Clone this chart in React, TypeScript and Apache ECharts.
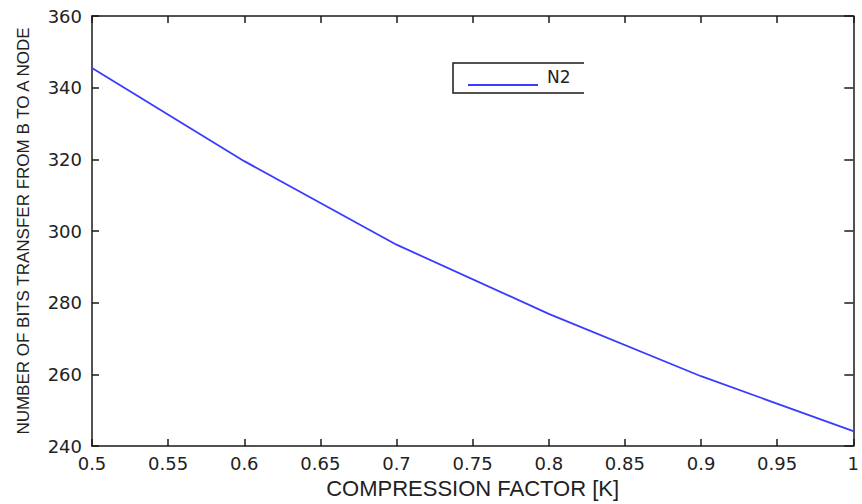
import React, { useEffect, useRef } from "react";
import * as echarts from "echarts";

const kValues = [0.5, 0.6, 0.7, 0.8, 0.9, 1.0];
const n2Bits = [345.5, 319.5, 296.2, 276.9, 259.5, 244.2];
const seriesName = "N2";
const xTitle = "COMPRESSION FACTOR [K]";
const yTitle = "NUMBER OF BITS TRANSFER FROM B TO A NODE";

export default function App() {
  const ref = useRef<HTMLDivElement>(null);
  useEffect(() => {
    if (!ref.current) return;
    const chart = echarts.init(ref.current, undefined, { renderer: "svg" });
    const axisColor = "#1a1a1a";
    const tickFont = { fontFamily: "DejaVu Sans", fontSize: 18, color: "#222" };
    chart.setOption({
      animation: false,
      backgroundColor: "#ffffff",
      grid: { left: 92, right: 5, top: 16, bottom: 52, containLabel: false },
      xAxis: [
        {
          type: "value",
          min: 0.5,
          max: 1,
          interval: 0.05,
          name: xTitle,
          nameLocation: "middle",
          nameGap: 27,
          nameTextStyle: { fontFamily: "Liberation Sans", fontSize: 22, color: "#222" },
          axisLine: { show: true, lineStyle: { color: axisColor, width: 1.5 } },
          axisTick: { show: true, inside: true, length: 7, lineStyle: { color: axisColor, width: 1.5 } },
          axisLabel: { ...tickFont, margin: 8 },
          splitLine: { show: false },
        },
        {
          type: "value",
          position: "top",
          min: 0.5,
          max: 1,
          interval: 0.05,
          axisLine: { show: true, lineStyle: { color: axisColor, width: 1.5 } },
          axisTick: { show: true, inside: true, length: 7, lineStyle: { color: axisColor, width: 1.5 } },
          axisLabel: { show: false },
          splitLine: { show: false },
        },
      ],
      yAxis: [
        {
          type: "value",
          min: 240,
          max: 360,
          interval: 20,
          name: yTitle,
          nameLocation: "middle",
          nameRotate: 90,
          nameGap: 60,
          nameTextStyle: { fontFamily: "Liberation Sans", fontSize: 17, color: "#222" },
          axisLine: { show: true, lineStyle: { color: axisColor, width: 1.5 } },
          axisTick: { show: true, inside: true, length: 7, lineStyle: { color: axisColor, width: 1.5 } },
          axisLabel: { ...tickFont, margin: 10 },
          splitLine: { show: false },
        },
        {
          type: "value",
          position: "right",
          min: 240,
          max: 360,
          interval: 20,
          axisLine: { show: true, lineStyle: { color: axisColor, width: 1.5 } },
          axisTick: { show: true, inside: true, length: 9, lineStyle: { color: axisColor, width: 1.5 } },
          axisLabel: { show: false },
          splitLine: { show: false },
        },
      ],
      series: [
        {
          name: seriesName,
          type: "line",
          data: kValues.map((k, i) => [k, n2Bits[i]]),
          symbol: "none",
          lineStyle: { color: "#3b3bff", width: 1.8 },
          xAxisIndex: 0,
          yAxisIndex: 0,
        },
      ],
      graphic: [
        {
          type: "polyline",
          shape: { points: [[584, 63], [453, 63], [453, 93], [584, 93]] },
          style: { stroke: axisColor, lineWidth: 1.5, fill: "none" },
          z: 100,
        },
        {
          type: "line",
          shape: { x1: 468, y1: 85, x2: 538, y2: 85 },
          style: { stroke: "#3b3bff", lineWidth: 1.8 },
          z: 100,
        },
        {
          type: "text",
          x: 547,
          y: 77,
          style: {
            text: seriesName,
            fontFamily: "DejaVu Sans",
            fontSize: 17,
            fill: "#222",
            verticalAlign: "middle",
            align: "left",
          },
          z: 100,
        },
      ],
    });
    return () => chart.dispose();
  }, []);
  return (
    <div
      ref={ref}
      style={{ position: "fixed", left: 0, top: 0, width: 862, height: 504, background: "#fff" }}
    />
  );
}
